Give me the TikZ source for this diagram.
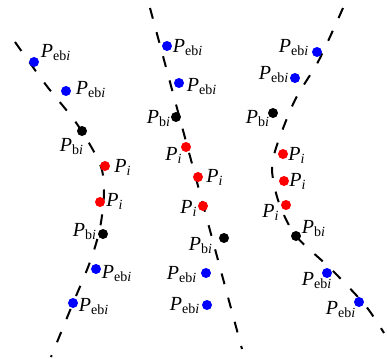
\documentclass[tikz,border=0pt]{standalone}
\usepackage{fontspec}
\setmainfont{Liberation Serif}
\usetikzlibrary{positioning}
\newcommand{\ptlab}[1]{\textit{P}\textsubscript{#1\textit{i}}}

\begin{document}
\begin{tikzpicture}[x=0.5pt,y=-0.5pt,
  dotpt/.style={circle,inner sep=0pt,minimum size=5pt},
  ebpt/.style={dotpt,fill=blue},
  bpt/.style={dotpt,fill=black},
  ipt/.style={dotpt,fill=red},
  lbl/.style={inner sep=0pt,font=\fontsize{10}{12}\selectfont},
  bline/.style={line width=1pt,dash pattern=on 5.5pt off 7pt}]
\useasboundingbox (0,0) rectangle (387,359);
% the three boundaries
\draw[bline] plot[smooth] coordinates {(15,42) (46,85) (77,124) (100,164) (104,192) (100,228) (90,262) (71,308) (51,357)};
\draw[bline] (150,8) -- (242,349);
\draw[bline] plot[smooth] coordinates {(343,8) (319,60) (295,100) (277,145) (272,170) (279,203) (296,236) (331,269) (365,305) (384,333)};
% left
\node[ebpt] (l1) at (34,62) {};
\node[ebpt] (l2) at (66,91) {};
\node[bpt] (l3) at (82,131) {};
\node[ipt] (l4) at (105,166) {};
\node[ipt] (l5) at (100,202) {};
\node[bpt] (l6) at (103,234) {};
\node[ebpt] (l7) at (96,269) {};
\node[ebpt] (l8) at (73,303) {};
\node[lbl] (tl1) at (56,53) {\ptlab{eb}};
\node[lbl] (tl2) at (91,90) {\ptlab{eb}};
\node[lbl] (tl3) at (72,147) {\ptlab{b}};
\node[lbl] (tl4) at (123,167) {\ptlab{}};
\node[lbl] (tl5) at (115,201) {\ptlab{}};
\node[lbl] (tl6) at (85,232) {\ptlab{b}};
\node[lbl] (tl7) at (117,274) {\ptlab{eb}};
\node[lbl] (tl8) at (94,307) {\ptlab{eb}};
% middle
\node[ebpt] (m1) at (167,46) {};
\node[ebpt] (m2) at (179,83) {};
\node[bpt] (m3) at (176,117) {};
\node[ipt] (m4) at (186,147) {};
\node[ipt] (m5) at (198,177) {};
\node[ipt] (m6) at (203,206) {};
\node[bpt] (m7) at (224,238) {};
\node[ebpt] (m8) at (206,273) {};
\node[ebpt] (m9) at (207,305) {};
\node[lbl] (tm1) at (188,48) {\ptlab{eb}};
\node[lbl] (tm2) at (202,87) {\ptlab{eb}};
\node[lbl] (tm3) at (159,119) {\ptlab{b}};
\node[lbl] (tm4) at (174,155) {\ptlab{}};
\node[lbl] (tm5) at (215,177) {\ptlab{}};
\node[lbl] (tm6) at (189,208) {\ptlab{}};
\node[lbl] (tm7) at (201,246) {\ptlab{b}};
\node[lbl] (tm8) at (182,275) {\ptlab{eb}};
\node[lbl] (tm9) at (185,306) {\ptlab{eb}};
% right
\node[ebpt] (r1) at (317,52) {};
\node[ebpt] (r2) at (295,78) {};
\node[bpt] (r3) at (273,113) {};
\node[ipt] (r4) at (283,154) {};
\node[ipt] (r5) at (284,181) {};
\node[ipt] (r6) at (286,205) {};
\node[bpt] (r7) at (296,236) {};
\node[ebpt] (r8) at (327,273) {};
\node[ebpt] (r9) at (359,302) {};
\node[lbl] (tr1) at (294,48) {\ptlab{eb}};
\node[lbl] (tr2) at (274,75) {\ptlab{eb}};
\node[lbl] (tr3) at (258,119) {\ptlab{b}};
\node[lbl] (tr4) at (297,155) {\ptlab{}};
\node[lbl] (tr5) at (298,181) {\ptlab{}};
\node[lbl] (tr6) at (271,212) {\ptlab{}};
\node[lbl] (tr7) at (314,229) {\ptlab{b}};
\node[lbl] (tr8) at (317,281) {\ptlab{eb}};
\node[lbl] (tr9) at (341,310) {\ptlab{eb}};
\end{tikzpicture}
\end{document}
